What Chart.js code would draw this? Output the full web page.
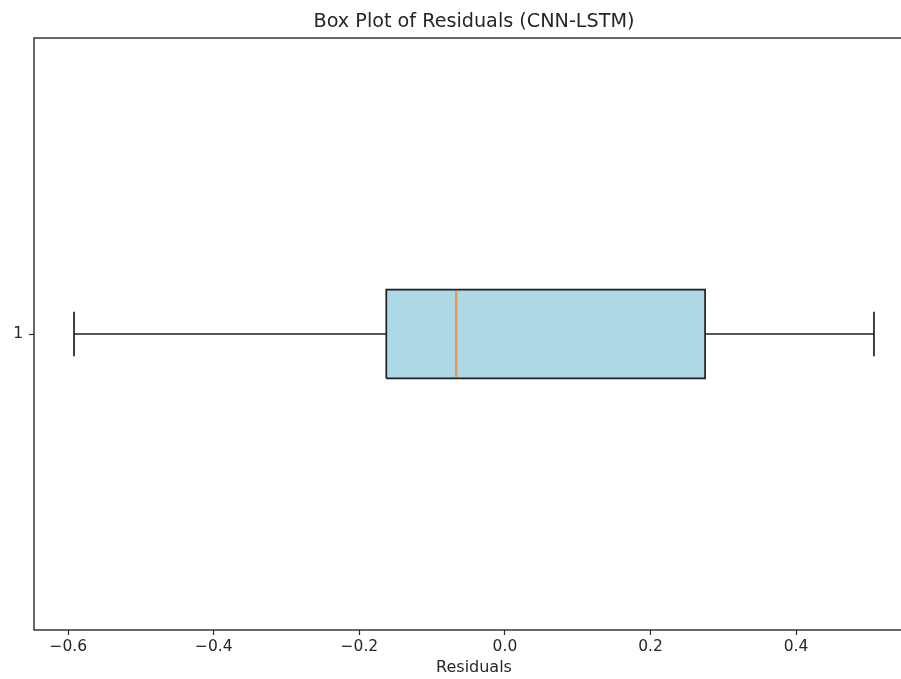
<!DOCTYPE html>
<html>
<head>
<meta charset="utf-8">
<script src="https://cdn.jsdelivr.net/npm/chart.js@4.4.0/dist/chart.umd.min.js"></script>
<style>
  html,body{margin:0;padding:0;background:#fff;overflow:hidden}
  #wrap{width:940px;height:679px;position:relative}
</style>
</head>
<body>
<div id="wrap"><canvas id="c"></canvas></div>
<script>
// data
const categories=['1'];
const boxQ1=[-0.163];
const boxQ3=[0.275];
const medians=[-0.067];
const whiskerLow=[-0.592];
const whiskerHigh=[0.507];
const xTicks=[-0.6,-0.4,-0.2,0.0,0.2,0.4];

const pos=1, boxHalf=0.075, capHalf=0.0375;
const black='#1f1f1f';

function seg(a,b){return [a,b]}
const ds=[
  // box fill (between bottom and top edge)
  {data:seg({x:boxQ1[0],y:pos-boxHalf},{x:boxQ3[0],y:pos-boxHalf}),borderWidth:0,order:9},
  {data:seg({x:boxQ1[0],y:pos+boxHalf},{x:boxQ3[0],y:pos+boxHalf}),borderWidth:0,fill:'-1',backgroundColor:'#add8e6',order:8},
  // box outline
  {data:[{x:boxQ1[0],y:pos-boxHalf},{x:boxQ3[0],y:pos-boxHalf},{x:boxQ3[0],y:pos+boxHalf},{x:boxQ1[0],y:pos+boxHalf},{x:boxQ1[0],y:pos-boxHalf}],borderColor:black,borderWidth:1.7,order:3},
  // whiskers
  {data:seg({x:whiskerLow[0],y:pos},{x:boxQ1[0],y:pos}),borderColor:black,borderWidth:1.6,order:3},
  {data:seg({x:boxQ3[0],y:pos},{x:whiskerHigh[0],y:pos}),borderColor:black,borderWidth:1.6,order:3},
  // caps
  {data:seg({x:whiskerLow[0],y:pos-capHalf},{x:whiskerLow[0],y:pos+capHalf}),borderColor:black,borderWidth:1.7,order:3},
  {data:seg({x:whiskerHigh[0],y:pos-capHalf},{x:whiskerHigh[0],y:pos+capHalf}),borderColor:black,borderWidth:1.7,order:3},
  // median
  {data:seg({x:medians[0],y:pos-boxHalf+0.002},{x:medians[0],y:pos+boxHalf-0.002}),borderColor:'#e8974f',borderWidth:2.4,order:1}
];
ds.forEach(d=>{d.pointRadius=0;d.tension=0;d.fill=d.fill||false;d.borderCapStyle='butt'});

const frame={
  id:'frame',
  afterDatasetsDraw(chart){
    const a=chart.chartArea,ctx=chart.ctx;
    ctx.save();ctx.strokeStyle='#2a2a2a';ctx.lineWidth=1.4;
    ctx.strokeRect(a.left,a.top,a.right-a.left,a.bottom-a.top);
    ctx.restore();
  }
};

const font="'DejaVu Sans', sans-serif";
new Chart(document.getElementById('c'),{
  type:'line',
  data:{datasets:ds},
  plugins:[frame],
  options:{
    responsive:true,maintainAspectRatio:false,animation:false,
    layout:{padding:{right:26,left:0,top:0,bottom:0}},
    plugins:{
      legend:{display:false},tooltip:{enabled:false},
      title:{display:true,text:'Box Plot of Residuals (CNN-LSTM)',fullSize:false,color:'#262626',
        font:{family:font,size:19.2,weight:'normal'},padding:{top:10,bottom:5}}
    },
    scales:{
      x:{type:'linear',min:-0.647,max:0.562,
        afterBuildTicks:s=>{s.ticks=xTicks.map(v=>({value:v}))},
        afterFit:s=>{s.height=49},
        border:{display:false},
        grid:{drawOnChartArea:false,drawTicks:true,tickLength:5,color:'#2a2a2a',tickWidth:1.2},
        ticks:{color:'#262626',font:{family:font,size:15.5},padding:3,maxRotation:0,
          callback:v=>v.toFixed(1).replace('-','\u2212')},
        title:{display:true,text:'Residuals',color:'#262626',font:{family:font,size:16},padding:{top:0,bottom:2}}
      },
      y:{type:'linear',min:0.5,max:1.5,
        afterBuildTicks:s=>{s.ticks=[{value:pos}]},
        afterFit:s=>{s.width=34},
        border:{display:false},
        grid:{drawOnChartArea:false,drawTicks:true,tickLength:5,color:'#2a2a2a',tickWidth:1.2},
        ticks:{color:'#262626',font:{family:font,size:15.5},padding:6,callback:()=>categories[0]}
      }
    }
  }
});
</script>
</body>
</html>
